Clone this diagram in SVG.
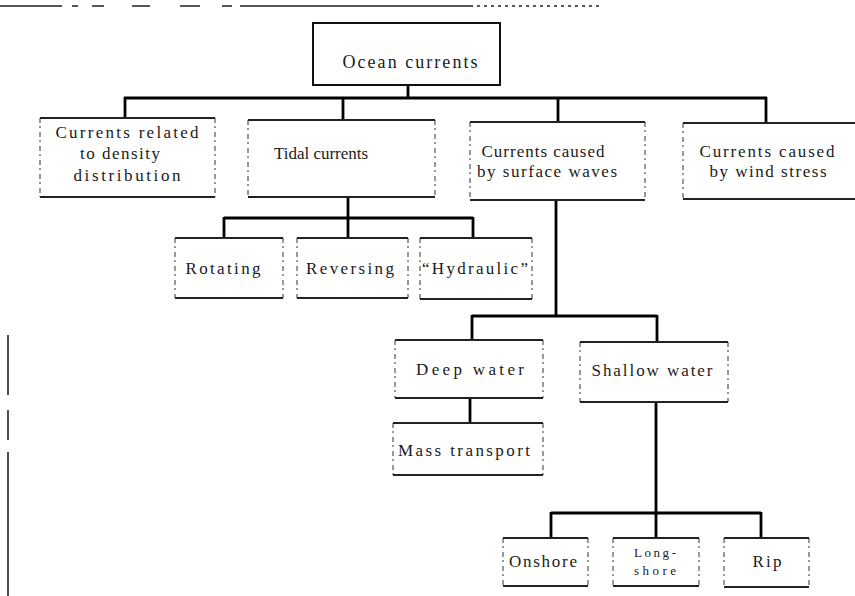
<svg xmlns="http://www.w3.org/2000/svg" width="855" height="596" viewBox="0 0 855 596">
  <style>
    .bg { fill: #ffffff; }
    .rule { fill: none; stroke: #222; stroke-width: 2; }
    .side { fill: none; stroke: #333; stroke-width: 1; stroke-dasharray: 5 3 2 4; }
    .frame { fill: none; stroke: #111; stroke-width: 2; }
    .wire { fill: none; stroke: #000; stroke-width: 2.8; stroke-linecap: butt; }
    .mark { fill: none; stroke: #222; stroke-width: 1.6; }
    text { font-family: "Liberation Serif", "Times New Roman", serif; font-size: 17px; fill: #1a1a1a; text-anchor: middle; dominant-baseline: central; }
    .big { font-size: 18px; }
    .small { font-size: 13px; }
  </style>

  <rect class="bg" x="0" y="0" width="855" height="596"/>

  <!-- page margin rules -->
  <g id="margins">
    <path class="mark" d="M0 6 H62 M72 6 H78 M92 6 H104 M132 6 H150 M180 6 H200 M222 6 H232 M240 6 H470"/>
    <path class="mark" stroke-dasharray="3 4" stroke-width="1" d="M470 6 H600"/>
    <path class="mark" d="M8 335 V395 M8 410 V440 M8 452 V596"/>
  </g>

  <!-- connectors -->
  <g id="connectors">
    <path class="wire" d="M408 85 V98 M124 98 H767 M125 97 V118 M343 97 V120 M558 97 V122 M766 97 V123"/>
    <path class="wire" d="M348 197 V238 M224 218 H473 M224 217 V238 M473 217 V238"/>
    <path class="wire" d="M556 200 V316 M472 316 H657 M472 315 V340 M657 315 V342"/>
    <path class="wire" d="M470 398 V423"/>
    <path class="wire" d="M656 402 V538 M551 513 H761 M551 512 V538 M761 512 V538"/>
  </g>

  <!-- root -->
  <g id="ocean-currents">
    <rect class="frame" x="313" y="23" width="187" height="62"/>
    <text class="big" x="410" y="62" textLength="135" lengthAdjust="spacing">Ocean currents</text>
  </g>

  <!-- first level -->
  <g id="density">
    <path class="side" d="M40 118 V197 M215 118 V197"/>
    <path class="rule" d="M40 118 H215 M40 197 H215"/>
    <text x="127" y="132" textLength="143" lengthAdjust="spacing">Currents related</text>
    <text x="120" y="153" textLength="80" lengthAdjust="spacing">to density</text>
    <text x="127" y="175" textLength="107" lengthAdjust="spacing">distribution</text>
  </g>

  <g id="tidal">
    <path class="side" d="M248 120 V197 M435 120 V197"/>
    <path class="rule" d="M248 120 H435 M248 197 H435"/>
    <text x="321" y="153" textLength="94" lengthAdjust="spacing">Tidal currents</text>
  </g>

  <g id="surface-waves">
    <path class="side" d="M470 122 V200 M645 122 V200"/>
    <path class="rule" d="M470 122 H645 M470 200 H645"/>
    <text x="543" y="151" textLength="123" lengthAdjust="spacing">Currents caused</text>
    <text x="547" y="171" textLength="140" lengthAdjust="spacing">by surface waves</text>
  </g>

  <g id="wind-stress">
    <path class="side" d="M683 123 V199"/>
    <path class="rule" d="M683 123 H855 M683 199 H855"/>
    <text x="767" y="151" textLength="135" lengthAdjust="spacing">Currents caused</text>
    <text x="768" y="171" textLength="117" lengthAdjust="spacing">by wind stress</text>
  </g>

  <!-- tidal branches -->
  <g id="rotating">
    <path class="side" d="M175 238 V298 M283 238 V298"/>
    <path class="rule" d="M175 238 H283 M175 298 H283"/>
    <text x="223" y="268" textLength="75" lengthAdjust="spacing">Rotating</text>
  </g>

  <g id="reversing">
    <path class="side" d="M297 238 V298 M408 238 V298"/>
    <path class="rule" d="M297 238 H408 M297 298 H408"/>
    <text x="350" y="268" textLength="88" lengthAdjust="spacing">Reversing</text>
  </g>

  <g id="hydraulic">
    <path class="side" d="M420 238 V299 M532 238 V299"/>
    <path class="rule" d="M420 238 H532 M420 299 H532"/>
    <text x="475" y="268" textLength="106" lengthAdjust="spacing">“Hydraulic”</text>
  </g>

  <!-- wave branches -->
  <g id="deep-water">
    <path class="side" d="M395 340 V398 M543 340 V398"/>
    <path class="rule" d="M395 340 H543 M395 398 H543"/>
    <text x="470" y="369" textLength="108" lengthAdjust="spacing">Deep water</text>
  </g>

  <g id="shallow-water">
    <path class="side" d="M580 342 V402 M728 342 V402"/>
    <path class="rule" d="M580 342 H728 M580 402 H728"/>
    <text x="652" y="370" textLength="121" lengthAdjust="spacing">Shallow water</text>
  </g>

  <g id="mass-transport">
    <path class="side" d="M393 423 V475 M543 423 V475"/>
    <path class="rule" d="M393 423 H543 M393 475 H543"/>
    <text x="464" y="450" textLength="132" lengthAdjust="spacing">Mass transport</text>
  </g>

  <!-- shallow water branches -->
  <g id="onshore">
    <path class="side" d="M503 538 V586 M588 538 V586"/>
    <path class="rule" d="M503 538 H588 M503 586 H588"/>
    <text x="543" y="561" textLength="68" lengthAdjust="spacing">Onshore</text>
  </g>

  <g id="longshore">
    <path class="side" d="M613 538 V586 M699 538 V586"/>
    <path class="rule" d="M613 538 H699 M613 586 H699"/>
    <text class="small" x="655" y="552" textLength="42" lengthAdjust="spacing">Long-</text>
    <text class="small" x="655" y="570" textLength="42" lengthAdjust="spacing">shore</text>
  </g>

  <g id="rip">
    <path class="side" d="M724 538 V587 M809 538 V587"/>
    <path class="rule" d="M724 538 H809 M724 587 H809"/>
    <text x="767" y="561" textLength="29" lengthAdjust="spacing">Rip</text>
  </g>
</svg>
